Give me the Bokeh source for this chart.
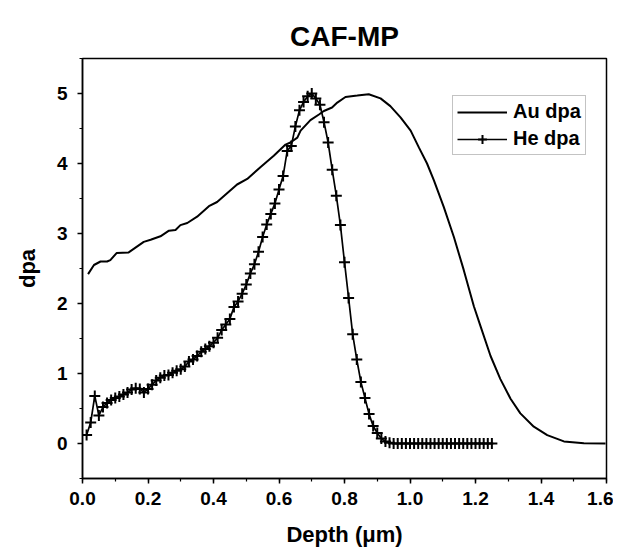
from bokeh.plotting import figure
from bokeh.models import SingleIntervalTicker, NumeralTickFormatter, Range1d, Legend, LegendItem
from bokeh.embed import file_html
from bokeh.resources import INLINE

# Au dpa (depth in um, dpa)
au_x = [0.017, 0.035, 0.055, 0.075, 0.085, 0.104, 0.141, 0.187, 0.208, 0.238, 0.264, 0.284,
        0.299, 0.320, 0.350, 0.386, 0.411, 0.472, 0.503, 0.544, 0.584, 0.620, 0.635, 0.656,
        0.666, 0.696, 0.722, 0.737, 0.762, 0.778, 0.803, 0.839, 0.874, 0.910, 0.940, 0.971,
        1.002, 1.027, 1.052, 1.073, 1.103, 1.134, 1.164, 1.195, 1.215, 1.246, 1.276, 1.307,
        1.337, 1.378, 1.419, 1.470, 1.531, 1.597]
au_y = [2.42, 2.55, 2.60, 2.60, 2.62, 2.72, 2.73, 2.88, 2.91, 2.96, 3.04, 3.05,
        3.12, 3.15, 3.24, 3.39, 3.45, 3.70, 3.78, 3.95, 4.11, 4.27, 4.30, 4.37,
        4.47, 4.62, 4.70, 4.75, 4.80, 4.87, 4.95, 4.97, 4.99, 4.93, 4.82, 4.66,
        4.47, 4.23, 4.00, 3.76, 3.38, 2.95, 2.48, 1.96, 1.68, 1.25, 0.92, 0.64,
        0.43, 0.24, 0.12, 0.03, 0.005, 0.0]

# He dpa
he_x = [0.0125, 0.025, 0.0375, 0.05, 0.0625, 0.075, 0.0875, 0.1, 0.1125, 0.125,
        0.1375, 0.15, 0.1625, 0.175, 0.1875, 0.2, 0.2125, 0.225, 0.2375, 0.25,
        0.2625, 0.275, 0.2875, 0.3, 0.3125, 0.325, 0.3375, 0.35, 0.3625, 0.375,
        0.3875, 0.4, 0.4125, 0.425, 0.4375, 0.45, 0.4625, 0.475, 0.4875, 0.5,
        0.5125, 0.525, 0.5375, 0.55, 0.5625, 0.575, 0.5875, 0.6, 0.6125, 0.625,
        0.6375, 0.65, 0.6625, 0.675, 0.6875, 0.7, 0.7125, 0.725, 0.7375, 0.75,
        0.7625, 0.775, 0.7875, 0.8, 0.8125, 0.825, 0.8375, 0.85, 0.8625, 0.875,
        0.8875, 0.9, 0.9125, 0.925, 0.9375, 0.95, 0.9625, 0.975, 0.9875, 1.0,
        1.0125, 1.025, 1.0375, 1.05, 1.0625, 1.075, 1.0875, 1.1, 1.1125, 1.125,
        1.1375, 1.15, 1.1625, 1.175, 1.1875, 1.2, 1.2125, 1.225, 1.2375, 1.25]
he_y = [0.12, 0.30, 0.68, 0.40, 0.52, 0.58, 0.62, 0.65, 0.67, 0.70,
        0.73, 0.77, 0.79, 0.78, 0.73, 0.78, 0.84, 0.90, 0.94, 0.97,
        0.98, 1.01, 1.04, 1.06, 1.10, 1.17, 1.20, 1.25, 1.31, 1.35,
        1.39, 1.44, 1.51, 1.62, 1.70, 1.78, 1.95, 2.03, 2.14, 2.27,
        2.43, 2.56, 2.74, 2.95, 3.13, 3.28, 3.43, 3.63, 3.82, 4.18,
        4.25, 4.53, 4.76, 4.88, 4.96, 5.00, 4.93, 4.84, 4.59, 4.30,
        3.91, 3.54, 3.12, 2.59, 2.08, 1.56, 1.20, 0.88, 0.65, 0.42,
        0.25, 0.15, 0.07, 0.03, 0.01, 0.0, 0.0, 0.0, 0.0, 0.0,
        0.0, 0.0, 0.0, 0.0, 0.0, 0.0, 0.0, 0.0, 0.0, 0.0,
        0.0, 0.0, 0.0, 0.0, 0.0, 0.0, 0.0, 0.0, 0.0, 0.0]

FONT = "Liberation Sans"

p = figure(width=613, height=549, output_backend="svg", toolbar_location=None,
           x_range=Range1d(0.0, 1.6), y_range=Range1d(-0.5, 5.5),
           min_border_left=82, min_border_right=7, min_border_top=58, min_border_bottom=69,
           title="CAF-MP")
p.title.text_font = FONT
p.title.text_font_style = "bold"
p.title.text_font_size = "28px"
p.title.text_color = "black"
p.title.align = "center"
p.title.vertical_align = "top"
p.title.standoff = 10

p.xgrid.visible = False
p.ygrid.visible = False
p.outline_line_color = "black"
p.outline_line_width = 1.5
p.background_fill_color = "white"
p.border_fill_color = "white"

p.xaxis.ticker = SingleIntervalTicker(interval=0.2, num_minor_ticks=2)
p.yaxis.ticker = SingleIntervalTicker(interval=1, num_minor_ticks=2)
p.xaxis.formatter = NumeralTickFormatter(format="0.0")
p.yaxis.formatter = NumeralTickFormatter(format="0")
p.xaxis.axis_label = "Depth (μm)"
p.yaxis.axis_label = "dpa"
for ax in (p.xaxis, p.yaxis):
    ax.axis_line_color = "black"
    ax.axis_line_width = 1.5
    ax.major_tick_line_color = "black"
    ax.minor_tick_line_color = "black"
    ax.major_tick_line_width = 1.5
    ax.minor_tick_line_width = 1.2
    ax.major_tick_in = 0
    ax.major_tick_out = 5
    ax.minor_tick_in = 0
    ax.minor_tick_out = 3
    ax.major_label_text_font = FONT
    ax.major_label_text_font_style = "bold"
    ax.major_label_text_font_size = "19px"
    ax.major_label_text_color = "black"
    ax.axis_label_text_font = FONT
    ax.axis_label_text_font_style = "bold"
    ax.axis_label_text_font_size = "22px"
    ax.axis_label_text_color = "black"
p.xaxis.major_label_standoff = 8
p.xaxis.axis_label_standoff = 14
p.yaxis.major_label_standoff = 10
p.yaxis.axis_label_standoff = 14

au = p.line(au_x, au_y, line_color="black", line_width=2)
he_l = p.line(he_x, he_y, line_color="black", line_width=1.7)
he_m = p.scatter(he_x, he_y, marker="cross", size=11, line_color="black", line_width=2)

legend = Legend(items=[LegendItem(label="Au dpa", renderers=[au]),
                       LegendItem(label="He dpa", renderers=[he_l, he_m])],
                location=(370, 323))
legend.label_text_font = FONT
legend.label_text_font_style = "bold"
legend.label_text_font_size = "20px"
legend.label_text_color = "black"
legend.glyph_width = 50
legend.glyph_height = 22
legend.label_standoff = 6
legend.padding = 4
legend.spacing = 4
legend.margin = 0
legend.border_line_color = "#888888"
legend.border_line_width = 1
legend.background_fill_alpha = 1
p.add_layout(legend)

open("out.html", "w").write(file_html(p, INLINE))
